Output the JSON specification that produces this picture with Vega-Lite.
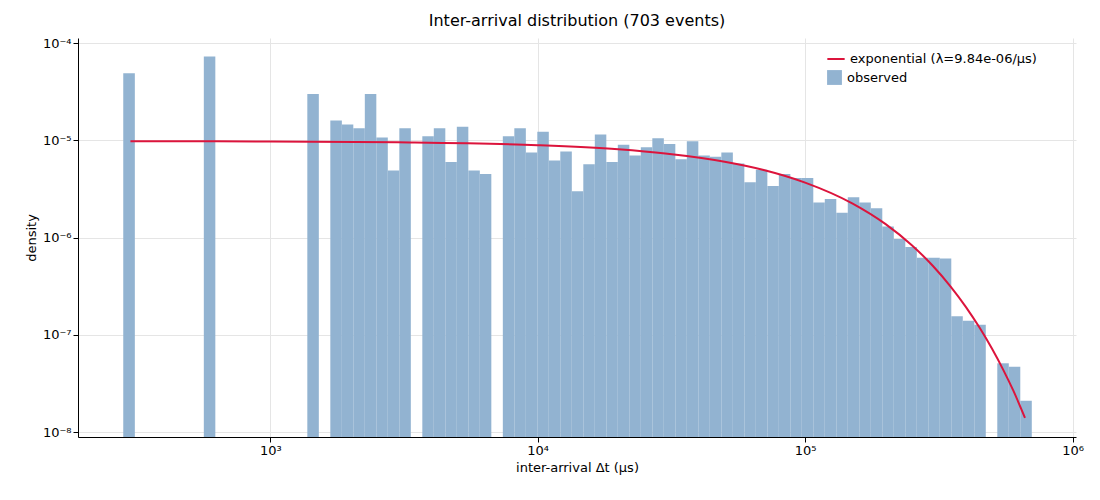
{
"$schema":"https://vega.github.io/schema/vega-lite/v6.json",
"width":998,"height":399,
"padding":{"left":78,"top":38,"right":24,"bottom":63},
"autosize":{"type":"none"},
"config":{"font":"DejaVu Sans","view":{"stroke":null},"axis":{"labelFont":"DejaVu Sans","titleFont":"DejaVu Sans","labelFontSize":13,"titleFontSize":13,"titleFontWeight":"normal","labelColor":"#000","titleColor":"#000","domainColor":"#000","tickColor":"#000","gridColor":"#e5e5e5"}},
"title":{"text":"Inter-arrival distribution (703 events)","fontSize":16,"fontWeight":"normal","font":"DejaVu Sans","offset":8},
"datasets":{
"bars":[
{"x0":282,"x1":311.6,"d":4.9e-5},
{"x0":564.3,"x1":623.1,"d":7.3e-5},
{"x0":1375.7,"x1":1519,"d":3.0e-5},
{"x0":1677,"x1":1852,"d":1.6e-5},
{"x0":1852,"x1":2044,"d":1.46e-5},
{"x0":2044,"x1":2257,"d":1.33e-5},
{"x0":2257,"x1":2492,"d":3.0e-5},
{"x0":2492,"x1":2751,"d":1.07e-5},
{"x0":2751,"x1":3038,"d":4.9e-6},
{"x0":3038,"x1":3354,"d":1.33e-5},
{"x0":3703,"x1":4088,"d":1.1e-5},
{"x0":4088,"x1":4514,"d":1.33e-5},
{"x0":4514,"x1":4984,"d":6.0e-6},
{"x0":4984,"x1":5503,"d":1.38e-5},
{"x0":5503,"x1":6075,"d":4.9e-6},
{"x0":6075,"x1":6708,"d":4.5e-6},
{"x0":7406,"x1":8177,"d":1.1e-5},
{"x0":8177,"x1":9029,"d":1.33e-5},
{"x0":9029,"x1":9966,"d":7.5e-6},
{"x0":9966,"x1":11003,"d":1.23e-5},
{"x0":11003,"x1":12148,"d":6.2e-6},
{"x0":12148,"x1":13413,"d":7.7e-6},
{"x0":13413,"x1":14809,"d":3.0e-6},
{"x0":14809,"x1":16351,"d":5.7e-6},
{"x0":16351,"x1":18053,"d":1.15e-5},
{"x0":18053,"x1":19933,"d":6.0e-6},
{"x0":19933,"x1":22009,"d":9.0e-6},
{"x0":22009,"x1":24299,"d":7.0e-6},
{"x0":24299,"x1":26830,"d":8.5e-6},
{"x0":26830,"x1":29621,"d":1.05e-5},
{"x0":29621,"x1":32706,"d":9.2e-6},
{"x0":32706,"x1":36108,"d":6.4e-6},
{"x0":36108,"x1":39866,"d":9.8e-6},
{"x0":39866,"x1":44013,"d":7.0e-6},
{"x0":44013,"x1":48606,"d":6.8e-6},
{"x0":48606,"x1":53666,"d":7.5e-6},
{"x0":53666,"x1":59248,"d":5.8e-6},
{"x0":59248,"x1":65416,"d":3.7e-6},
{"x0":65416,"x1":72228,"d":5.0e-6},
{"x0":72228,"x1":79746,"d":3.4e-6},
{"x0":79746,"x1":88044,"d":4.5e-6},
{"x0":88044,"x1":97163,"d":4.1e-6},
{"x0":97163,"x1":107270,"d":4.1e-6},
{"x0":107270,"x1":118440,"d":2.3e-6},
{"x0":118440,"x1":130770,"d":2.5e-6},
{"x0":130770,"x1":144380,"d":1.8e-6},
{"x0":144380,"x1":159410,"d":2.6e-6},
{"x0":159410,"x1":176000,"d":2.3e-6},
{"x0":176000,"x1":194310,"d":2.0e-6},
{"x0":194310,"x1":214560,"d":1.3e-6},
{"x0":214560,"x1":236870,"d":9.7e-7},
{"x0":236870,"x1":261520,"d":8.0e-7},
{"x0":261520,"x1":288740,"d":6.2e-7},
{"x0":288740,"x1":318790,"d":6.2e-7},
{"x0":318790,"x1":351970,"d":6.1e-7},
{"x0":351970,"x1":388580,"d":1.55e-7},
{"x0":388580,"x1":429050,"d":1.4e-7},
{"x0":429050,"x1":473690,"d":1.27e-7},
{"x0":523000,"x1":577430,"d":5.1e-8},
{"x0":577430,"x1":637540,"d":4.7e-8},
{"x0":637540,"x1":703900,"d":2.1e-8}
],
"curve":[
{"t":300,"p":9.81e-6},{"t":1000,"p":9.74e-6},{"t":3000,"p":9.55e-6},{"t":10000,"p":8.92e-6},{"t":20000,"p":8.09e-6},{"t":30000,"p":7.33e-6},{"t":50000,"p":6.03e-6},{"t":70000,"p":4.96e-6},{"t":100000,"p":3.68e-6},{"t":150000,"p":2.25e-6},{"t":200000,"p":1.375e-6},{"t":250000,"p":8.4e-7},{"t":300000,"p":5.14e-7},{"t":350000,"p":3.14e-7},{"t":400000,"p":1.92e-7},{"t":450000,"p":1.175e-7},{"t":500000,"p":7.18e-8},{"t":550000,"p":4.39e-8},{"t":600000,"p":2.68e-8},{"t":664000,"p":1.4e-8}
]},
"layer":[
{"data":{"name":"bars"},"mark":{"type":"rect","color":"#92b3d1","strokeWidth":0},
"encoding":{
"x":{"field":"x0","type":"quantitative","scale":{"type":"log","domain":[191,1030000],"nice":false},"axis":{"values":[1000,10000,100000,1000000],"labelExpr":"datum.value==1000?'10³':datum.value==10000?'10⁴':datum.value==100000?'10⁵':'10⁶'","title":"inter-arrival Δt (μs)","grid":true,"tickSize":5}},
"x2":{"field":"x1"},
"y":{"field":"d","type":"quantitative","scale":{"type":"log","domain":[8.9e-9,1.13e-4],"nice":false},"axis":{"values":[1e-8,1e-7,1e-6,1e-5,1e-4],"labelExpr":"datum.value<2e-8?'10⁻⁸':datum.value<2e-7?'10⁻⁷':datum.value<2e-6?'10⁻⁶':datum.value<2e-5?'10⁻⁵':'10⁻⁴'","title":"density","grid":true,"tickSize":5}},
"y2":{"datum":8.9e-9},
"fill":{"datum":"observed","type":"nominal","scale":{"domain":["observed"],"range":["#92b3d1"]},"legend":{"title":null,"orient":"none","legendX":744,"legendY":27,"symbolType":"square","symbolSize":220,"labelFontSize":13,"labelFont":"DejaVu Sans","labelLimit":0,"padding":4}}
}},
{"data":{"name":"curve"},"mark":{"type":"line","color":"crimson","strokeWidth":2,"interpolate":"monotone"},
"encoding":{
"x":{"field":"t","type":"quantitative"},
"y":{"field":"p","type":"quantitative"},
"stroke":{"datum":"exponential (λ=9.84e-06/μs)","type":"nominal","scale":{"domain":["exponential (λ=9.84e-06/μs)"],"range":["crimson"]},"legend":{"title":null,"orient":"none","legendX":744,"legendY":7,"symbolType":"stroke","symbolStrokeWidth":2,"symbolSize":300,"labelFontSize":13,"labelFont":"DejaVu Sans","labelLimit":0,"padding":4}}
}}
]
}
